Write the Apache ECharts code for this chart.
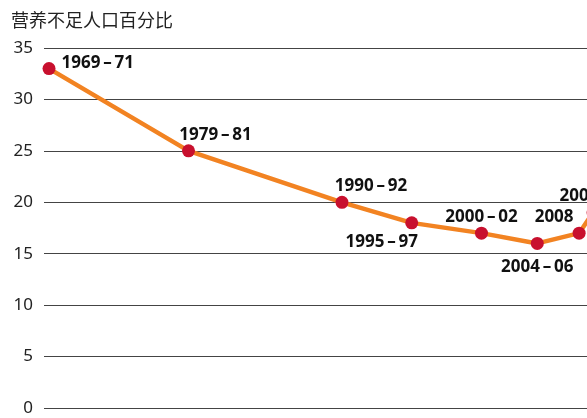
<!DOCTYPE html>
<html>
<head>
<meta charset="utf-8">
<script src="https://cdn.jsdelivr.net/npm/echarts@6/dist/echarts.min.js"></script>
<style>
  html, body { margin: 0; padding: 0; background: #fff; }
  #chart { width: 587px; height: 418px; }
</style>
</head>
<body>
<div id="chart"></div>
<script>
// 时期标签、对应的中间年份、营养不足人口百分比
const periods = ['1969\u2009–\u200971', '1979\u2009–\u200981', '1990\u2009–\u200992', '1995\u2009–\u200997', '2000\u2009–\u200902', '2004\u2009–\u200906', '2008', '2009']
const midYears = [1970, 1980, 1991, 1996, 2001, 2005, 2008, 2009]
const undernourished = [33, 25, 20, 18, 17, 16, 17, 19]
const yTicks = [0, 5, 10, 15, 20, 25, 30, 35]

// 每个点的标签位置（图上标签有的偏左、有的偏右）
const labelPos = [
  { position: 'right', offset: [5, -5] },
  { position: 'top', offset: [27, 0] },
  { position: 'top', offset: [29, 0] },
  { position: 'bottom', offset: [-30, 3] },
  { position: 'top', offset: [0, 0] },
  { position: 'bottom', offset: [0, 8] },
  { position: 'top', offset: [-25, 0] },
  { position: 'top', offset: [-14, 0] }
]

const chart = echarts.init(document.getElementById('chart'), null, { renderer: 'canvas' })

const option = {
  animation: false,
  title: {
    text: '营养不足人口百分比',
    left: 6,
    top: 6,
    textStyle: {
      fontFamily: '"Noto Sans CJK SC", sans-serif',
      fontSize: 18,
      fontWeight: 'normal',
      color: '#222'
    }
  },
  grid: {
    left: 44,
    top: 48,
    width: 560,
    height: 360,
    outerBoundsMode: 'none'
  },
  xAxis: {
    type: 'value',
    min: 1969.64,
    max: 1969.64 + 560 / 13.95,
    show: false
  },
  yAxis: {
    type: 'value',
    min: yTicks[0],
    max: yTicks[yTicks.length - 1],
    interval: 5,
    axisLine: { show: false },
    axisTick: { show: false },
    axisLabel: {
      margin: 11,
      fontFamily: '"Noto Sans", sans-serif',
      fontSize: 17,
      color: '#222'
    },
    splitLine: {
      lineStyle: { color: '#444', width: 1 }
    }
  },
  series: [
    {
      type: 'line',
      data: midYears.map((yr, i) => ({
        value: [yr, undernourished[i]],
        label: {
          show: true,
          formatter: periods[i],
          position: labelPos[i].position,
          offset: labelPos[i].offset
        }
      })),
      symbol: 'circle',
      symbolSize: 13,
      itemStyle: { color: '#c8102e' },
      lineStyle: { color: '#f28322', width: 4.5 },
      label: {
        distance: 1,
        fontFamily: '"Noto Sans", sans-serif',
        fontSize: 17,
        fontWeight: 'bold',
        color: '#111'
      },
      z: 3
    }
  ]
}

chart.setOption(option)
</script>
</body>
</html>
